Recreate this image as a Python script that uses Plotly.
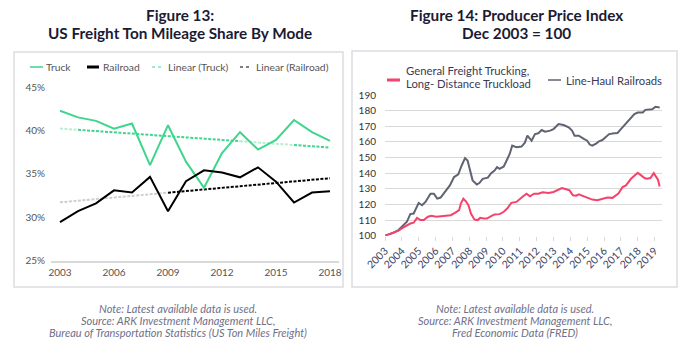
import numpy as np
import plotly.graph_objects as go

W, H = 687, 355

# ---------------- Figure 13 data ----------------
years13 = list(range(2003, 2019))
truck = [42.26, 41.5, 41.1, 40.2, 40.8, 36.0, 40.6, 36.4, 33.4, 37.4, 39.8, 37.8, 38.9, 41.2, 39.8, 38.8]
railroad = [29.45, 30.7, 31.6, 33.1, 32.85, 34.65, 30.7, 34.15, 35.4, 35.15, 34.6, 35.75, 34.1, 31.7, 32.85, 33.0]
ticks13 = [2003, 2006, 2009, 2012, 2015, 2018]
yticks13 = [25, 30, 35, 40, 45]

# ---------------- Figure 14 data ----------------
rail_t = [2003.0, 2003.5, 2003.8, 2004.0, 2004.2, 2004.3, 2004.5, 2004.7, 2005.0, 2005.2, 2005.4, 2005.7,
          2005.9, 2006.1, 2006.3, 2006.6, 2006.85, 2007.1, 2007.35, 2007.55, 2007.75, 2007.9, 2008.05,
          2008.2, 2008.45, 2008.6, 2008.8, 2009.1, 2009.3, 2009.5, 2009.65, 2009.8, 2010.05, 2010.2,
          2010.4, 2010.55, 2010.8, 2011.1, 2011.3, 2011.45, 2011.7, 2011.9, 2012.1, 2012.3, 2012.5,
          2012.8, 2013.0, 2013.3, 2013.6, 2013.9, 2014.1, 2014.25, 2014.5, 2014.8, 2015.0, 2015.15,
          2015.3, 2015.55, 2015.7, 2015.9, 2016.1, 2016.3, 2016.6, 2016.8, 2017.0, 2017.25, 2017.5,
          2017.8, 2018.0, 2018.3, 2018.45, 2018.65, 2018.85, 2019.05, 2019.3]
rail_v = [100, 101.9, 103.6, 105.7, 107.4, 108.9, 113.8, 114.2, 121.0, 119.5, 121.6, 126.9,
          126.9, 123.7, 124.4, 129.0, 132.2, 137.5, 139.2, 144.9, 149.6, 148.1, 141.7,
          135.4, 132.8, 133.7, 136.4, 137.1, 140.0, 141.7, 143.9, 142.8, 144.3, 148.1,
          152.3, 157.6, 156.6, 157.0, 159.5, 164.0, 160.8, 165.0, 165.5, 167.6, 166.5,
          167.2, 168.2, 171.4, 170.8, 169.3, 167.2, 164.0, 164.0, 161.9, 160.8, 158.3,
          157.6, 159.1, 160.4, 161.2, 162.9, 165.0, 165.5, 165.7, 168.2, 171.4, 174.6,
          177.8, 178.8, 178.8, 180.5, 180.5, 180.9, 182.4, 182.0]
truck_t = [2003.0, 2003.5, 2003.8, 2004.0, 2004.3, 2004.5, 2004.7, 2004.9, 2005.1, 2005.3, 2005.55,
           2005.75, 2006.05, 2006.35, 2006.65, 2006.9, 2007.15, 2007.4, 2007.5, 2007.65, 2007.8,
           2007.95, 2008.1, 2008.3, 2008.5, 2008.65, 2008.85, 2009.05, 2009.3, 2009.5, 2009.8,
           2010.05, 2010.25, 2010.4, 2010.5, 2010.8, 2010.95, 2011.2, 2011.4, 2011.6, 2011.85,
           2012.1, 2012.35, 2012.7, 2013.0, 2013.3, 2013.5, 2013.7, 2013.95, 2014.15, 2014.35,
           2014.5, 2014.8, 2015.0, 2015.3, 2015.6, 2015.9, 2016.2, 2016.5, 2016.7, 2016.85,
           2017.1, 2017.3, 2017.6, 2017.8, 2018.0, 2018.2, 2018.4, 2018.55, 2018.75, 2018.95,
           2019.1, 2019.2, 2019.3]
truck_v = [100, 101.9, 103.2, 104.7, 106.8, 107.8, 108.3, 111.4, 110.0, 110.0, 112.1,
           112.7, 112.1, 112.5, 112.5, 113.1, 114.6, 116.3, 120.6, 123.7, 122.0,
           119.5, 114.2, 110.4, 110.0, 111.4, 111.0, 111.0, 112.5, 113.6, 113.8,
           115.3, 117.4, 119.5, 121.0, 121.6, 123.1, 125.2, 126.9, 125.2, 126.9,
           126.9, 127.8, 127.3, 128.0, 129.4, 130.5, 129.9, 129.0, 125.8, 125.6,
           126.5, 125.2, 124.8, 123.1, 122.7, 123.7, 124.4, 124.2, 125.8, 126.9,
           131.1, 132.2, 136.4, 138.6, 140.3, 138.6, 136.9, 136.4, 136.9, 140.0,
           137.9, 135.8, 131.5]
ticks14 = list(range(2003, 2020))
yticks14 = list(range(100, 200, 10))

GREEN = "#3dd68c"
GREEN_LIGHT = "#b5eed0"
GRAY_LIGHT = "#cfcfd3"
PINK = "#f5426c"
GRAY = "#5f6372"
TXT = "#555555"
TITLE = "#1b1b33"
NOTE = "#70708a"


def px(x):
    return x / W


def py(y):
    return 1 - y / H


# linear trendlines (least squares fit of the series)
xs = np.array(years13, dtype=float)
ct = np.polyfit(xs, truck, 1)
cr = np.polyfit(xs, railroad, 1)

fig = go.Figure()


def trend_segment(coef, a, b, color):
    xx = [a, b]
    fig.add_trace(go.Scatter(x=xx, y=np.polyval(coef, xx), mode="lines", xaxis="x", yaxis="y",
                             line=dict(color=color, width=2, dash="3px,1.5px")))


# trendline segments (rendered lighter / darker as in the source image)
trend_segment(ct, 2003, 2004, GREEN_LIGHT)
trend_segment(ct, 2004, 2013, GREEN)
trend_segment(ct, 2013, 2016, GREEN_LIGHT)
trend_segment(ct, 2016, 2018, GREEN)
trend_segment(cr, 2003, 2009, GRAY_LIGHT)
trend_segment(cr, 2009, 2018, "black")

fig.add_trace(go.Scatter(x=years13, y=truck, mode="lines", xaxis="x", yaxis="y",
                         line=dict(color=GREEN, width=2)))
fig.add_trace(go.Scatter(x=years13, y=railroad, mode="lines", xaxis="x", yaxis="y",
                         line=dict(color="black", width=2)))

fig.add_trace(go.Scatter(x=rail_t, y=rail_v, mode="lines", xaxis="x2", yaxis="y2",
                         line=dict(color=GRAY, width=2)))
fig.add_trace(go.Scatter(x=truck_t, y=truck_v, mode="lines", xaxis="x2", yaxis="y2",
                         line=dict(color=PINK, width=2)))

axfont = dict(family="Lato, sans-serif", size=10, color=TXT)

fig.update_layout(
    template="none",
    width=W, height=H, autosize=False,
    margin=dict(l=0, r=0, t=0, b=0, pad=0),
    paper_bgcolor="white", plot_bgcolor="white",
    showlegend=False,
    font=dict(family="Lato, sans-serif"),
    xaxis=dict(domain=[px(51), px(339)], range=[2002.5, 2018.5], anchor="y", automargin=False,
               tickvals=ticks13, ticktext=[str(t) for t in ticks13],
               showgrid=False, zeroline=False, showline=True, linecolor="#d9d9d9", linewidth=1.5,
               ticks="", tickfont=axfont, ticklabelstandoff=2),
    yaxis=dict(domain=[py(260.7), py(87)], range=[25, 45], anchor="x", automargin=False,
               tickvals=yticks13, ticktext=[f"{v}%" for v in yticks13],
               showgrid=False, zeroline=False, showline=False, ticks="",
               tickfont=axfont, ticklabelstandoff=5),
    xaxis2=dict(domain=[px(385), px(662)], range=[2003, 2003 + 277 / 16.85], anchor="y2",
                automargin=False,
                tickvals=ticks14, ticktext=[str(t) for t in ticks14], tickangle=-45,
                showgrid=False, zeroline=False, showline=False,
                ticks="outside", ticklen=4, tickcolor="#d9d9d9",
                tickfont=dict(family="Lato, sans-serif", size=10.5, color="#3c4466")),
    yaxis2=dict(domain=[py(235.7), py(95)], range=[100, 190], anchor="x2", automargin=False,
                tickvals=yticks14, showgrid=True, gridcolor="#d9d9d9", gridwidth=1,
                zeroline=False, showline=False, ticks="",
                tickfont=dict(family="Lato, sans-serif", size=10, color="#333333"),
                ticklabelstandoff=8),
)

shapes = [
    dict(type="rect", xref="paper", yref="paper", x0=px(14), x1=px(343), y0=py(287), y1=py(52),
         line=dict(color="#dcdce2", width=1.5)),
    dict(type="rect", xref="paper", yref="paper", x0=px(352), x1=px(677), y0=py(287), y1=py(51),
         line=dict(color="#dcdce2", width=1.5)),
]
annotations = []


def legend_line(x0, x1, y, color, width, dash="solid"):
    shapes.append(dict(type="line", xref="paper", yref="paper", x0=px(x0), x1=px(x1),
                       y0=py(y), y1=py(y), line=dict(color=color, width=width, dash=dash)))


def text(x, y, s, size=10, color=TXT, xanchor="left", bold=False, italic=False, family="Lato, sans-serif"):
    if bold:
        s = f"<b>{s}</b>"
    if italic:
        s = f"<i>{s}</i>"
    annotations.append(dict(x=px(x), y=py(y), xref="paper", yref="paper", text=s, showarrow=False,
                            xanchor=xanchor, yanchor="middle",
                            font=dict(size=size, color=color, family=family)))


# left legend
legend_line(30, 43, 67, GREEN, 1.5)
text(44.5, 67, "Truck", size=10.3)
legend_line(87, 99, 67, "black", 3)
text(100.5, 67, "Railroad", size=10.3)
legend_line(152, 164, 67, GREEN, 1, "dot")
text(166, 67, "Linear (Truck)", size=10.3)
legend_line(240, 252, 67, "black", 1, "dot")
text(253.5, 67, "Linear (Railroad)", size=10.3)

# right legend
legend_line(387, 400, 80, PINK, 3)
text(404, 70.5, "General Freight Trucking,", size=11.3, color="#3a3a55")
text(404, 83, "Long- Distance Truckload", size=11.3, color="#3a3a55")
legend_line(548, 561, 80, GRAY, 1.5)
text(564, 80, "Line-Haul Railroads", size=11.3, color="#3a3a55")

# titles
text(180, 15, "Figure 13:", size=15.3, color=TITLE, xanchor="center", bold=True)
text(180, 33, "US Freight Ton Mileage Share By Mode", size=15.3, color=TITLE, xanchor="center", bold=True)
text(516, 15, "Figure 14: Producer Price Index", size=15.3, color=TITLE, xanchor="center", bold=True)
text(516, 33, "Dec 2003 = 100", size=15.3, color=TITLE, xanchor="center", bold=True)

# notes
for i, s in enumerate(["Note: Latest available data is used.",
                       "Source: ARK Investment Management LLC,",
                       "Bureau of Transportation Statistics (US Ton Miles Freight)"]):
    text(178, 308.3 + i * 12.2, s, size=11, color=NOTE, xanchor="center", italic=True)
for i, s in enumerate(["Note: Latest available data is used.",
                       "Source: ARK Investment Management LLC,",
                       "Fred Economic Data (FRED)"]):
    text(515, 308.3 + i * 12.2, s, size=11, color=NOTE, xanchor="center", italic=True)

fig.update_layout(shapes=shapes, annotations=annotations)

fig.write_html("out.html", config={"displayModeBar": False},
               post_script="document.body.style.margin='0';document.body.style.padding='0';")
